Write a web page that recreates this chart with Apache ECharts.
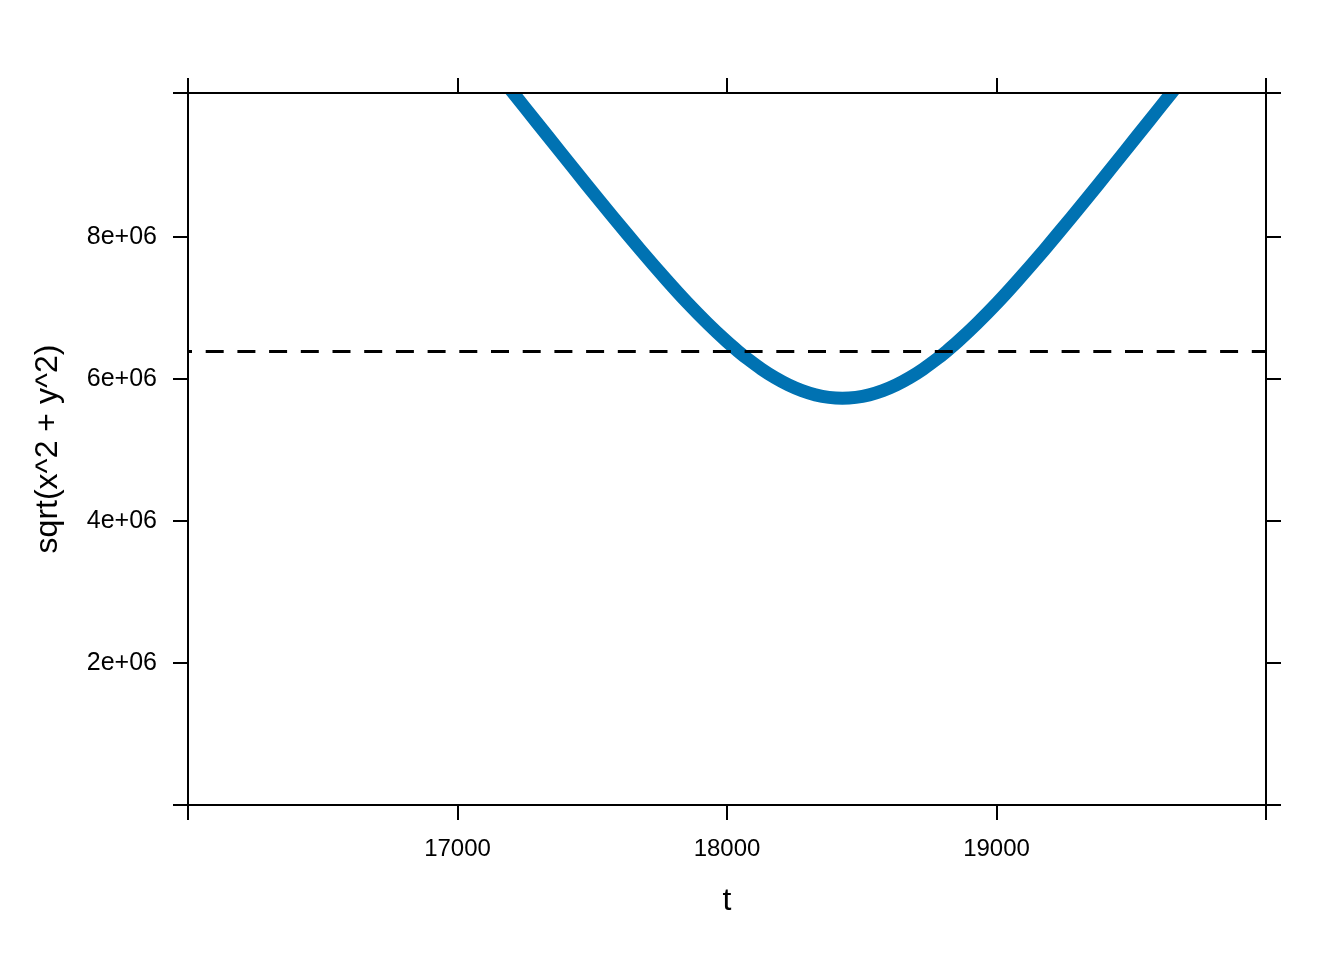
<!DOCTYPE html>
<html><head><meta charset="utf-8">
<script src="https://cdn.jsdelivr.net/npm/echarts@6/dist/echarts.min.js"></script>
<style>html,body{margin:0;padding:0;background:#fff}#c{width:1344px;height:960px}</style>
</head><body><div id="c"></div>
<script>
// curve: t vs sqrt(x^2 + y^2)
const tValues = [17098, 17208, 17293, 17378, 17478, 17578, 17678, 17778, 17853, 17928, 17998, 18042, 18078, 18128, 18178, 18228, 18278, 18328, 18378, 18428,
                 18478, 18528, 18578, 18628, 18678, 18728, 18778, 18814, 18858, 18928, 19003, 19078, 19178, 19278, 19378, 19478, 19563, 19648, 19758];
const radiusValues = [10548000, 10025000, 9620000, 9217000, 8743000, 8279000, 7823000, 7387000, 7075000, 6785000, 6534000, 6390000, 6280000, 6141000, 6020000, 5918000, 5837000, 5778000, 5742000, 5730000,
                      5742000, 5778000, 5837000, 5918000, 6020000, 6141000, 6280000, 6390000, 6534000, 6785000, 7075000, 7387000, 7823000, 8279000, 8743000, 9217000, 9620000, 10025000, 10548000];
// dashed reference line
const refT = [16000, 20000];
const refValue = [6390000, 6390000];
// axes
const xMin = 16000, xMax = 20000, xStep = 1000;
const yMin = 0, yMax = 10030000, yStep = 2000000;
const xTickValues = [16000, 17000, 18000, 19000, 20000];
const xLabelValues = [17000, 18000, 19000];
const yTickValues = [0, 2000000, 4000000, 6000000, 8000000, 10030000];
const yLabelValues = [2000000, 4000000, 6000000, 8000000];

const FONT = 'Liberation Sans, Arial, sans-serif';
const chart = echarts.init(document.getElementById('c'), null, {renderer: 'canvas'});

const curveData = tValues.map((t, i) => [t, radiusValues[i]]);
const refData = refT.map((t, i) => [t, refValue[i]]);

const axisLine = {show: true, onZero: false, lineStyle: {color: '#000', width: 2}};
const tickStyle = {color: '#000', width: 2};

function xLabel(v) { return String(v); }
function yLabel(v) { return (v / 1e6) + 'e+06'; }

chart.setOption({
  animation: false,
  backgroundColor: '#fff',
  grid: {left: 188, right: 78, top: 93, bottom: 155, containLabel: false},
  xAxis: [
    {type: 'value', position: 'bottom', min: xMin, max: xMax, interval: xStep, z: 10,
     name: 't', nameLocation: 'middle', nameGap: 80,
     nameTextStyle: {color: '#000', fontSize: 32, fontFamily: FONT},
     axisLine, splitLine: {show: false},
     axisTick: {show: true, inside: false, length: 15, lineStyle: tickStyle, customValues: xTickValues},
     axisLabel: {show: true, margin: 32, color: '#000', fontSize: 24, fontFamily: FONT, formatter: xLabel, customValues: xLabelValues}},
    {type: 'value', position: 'top', min: xMin, max: xMax, interval: xStep, z: 10,
     axisLine, splitLine: {show: false},
     axisTick: {show: true, inside: false, length: 15, lineStyle: tickStyle, customValues: xTickValues},
     axisLabel: {show: false}}
  ],
  yAxis: [
    {type: 'value', position: 'left', min: yMin, max: yMax, interval: yStep, z: 10,
     name: 'sqrt(x^2 + y^2)', nameLocation: 'middle', nameGap: 124, nameRotate: 90,
     nameTextStyle: {color: '#000', fontSize: 32, fontFamily: FONT},
     axisLine, splitLine: {show: false},
     axisTick: {show: true, inside: false, length: 15, lineStyle: tickStyle, customValues: yTickValues},
     axisLabel: {show: true, margin: 31, color: '#000', fontSize: 25, fontFamily: FONT, formatter: yLabel, customValues: yLabelValues}},
    {type: 'value', position: 'right', min: yMin, max: yMax, interval: yStep, z: 10,
     axisLine, splitLine: {show: false},
     axisTick: {show: true, inside: false, length: 15, lineStyle: tickStyle, customValues: yTickValues},
     axisLabel: {show: false}}
  ],
  graphic: [
    {type: 'rect', z: 5, silent: true, shape: {x: 0, y: 0, width: 1344, height: 92}, style: {fill: '#fff'}}
  ],
  series: [
    {type: 'line', xAxisIndex: 0, yAxisIndex: 0, data: curveData, showSymbol: false, smooth: 0.2,
     clip: true, z: 2, lineStyle: {color: '#0072B2', width: 13, cap: 'butt', join: 'round'}},
    {type: 'line', xAxisIndex: 0, yAxisIndex: 0, data: refData, showSymbol: false, z: 3,
     lineStyle: {color: '#000', width: 3, type: [18, 13.7], dashOffset: 14}}
  ]
});
</script></body></html>
